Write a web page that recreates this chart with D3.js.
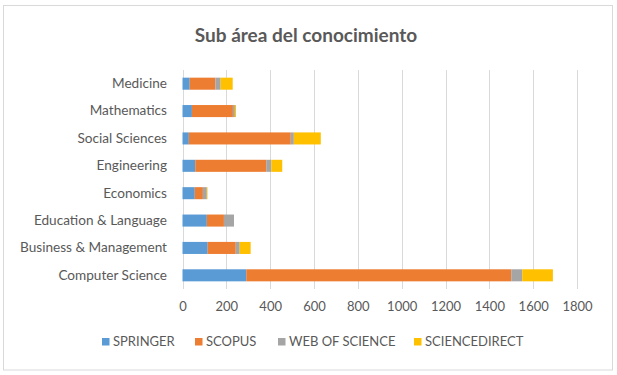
<!DOCTYPE html>
<html>
<head>
<meta charset="utf-8">
<script src="https://cdn.jsdelivr.net/npm/d3@7"></script>
<style>
  body { margin: 0; background: #fff; }
  svg { display: block; }
  text { font-family: Lato, "Open Sans", sans-serif; fill: #595959; }
</style>
</head>
<body>
<svg id="chart" width="617" height="375"></svg>
<script>
// categories, top to bottom
var categories = ["Medicine", "Mathematics", "Social Sciences", "Engineering",
  "Economics", "Education & Language", "Business & Management", "Computer Science"];

var seriesNames = ["SPRINGER", "SCOPUS", "WEB OF SCIENCE", "SCIENCEDIRECT"];
var springer      = [33, 43, 29, 58, 56, 111, 115, 291];
var scopus        = [117, 187, 465, 324, 37, 78, 128, 1209];
var webOfScience  = [24, 9, 14, 23, 18, 46, 18, 50];
var scienceDirect = [55, 5, 123, 50, 3, 0, 50, 140];

var xTicks = [0, 200, 400, 600, 800, 1000, 1200, 1400, 1600, 1800];
var colors = ["#5B9BD5", "#ED7D31", "#A5A5A5", "#FFC000"];

var svg = d3.select("#chart");

// outer border
svg.append("rect")
  .attr("x", 3.5).attr("y", 5.5)
  .attr("width", 609).attr("height", 364.5)
  .attr("fill", "none")
  .attr("stroke", "#d9d9d9");

svg.append("text")
  .attr("x", 306).attr("y", 42)
  .attr("text-anchor", "middle")
  .style("font-size", "19px")
  .style("font-weight", "bold")
  .text("Sub área del conocimiento");

var x = d3.scaleLinear().domain([0, 1800]).range([182.5, 577]);
var y = d3.scaleBand().domain(categories).range([70, 289]).paddingInner(0.56).paddingOuter(0.28);

// gridlines
svg.append("g")
  .selectAll("line")
  .data(xTicks)
  .join("line")
  .attr("x1", function(d) { return Math.round(x(d)) + 0.5; })
  .attr("x2", function(d) { return Math.round(x(d)) + 0.5; })
  .attr("y1", 70).attr("y2", 289)
  .attr("stroke", "#d9d9d9")
  .attr("stroke-width", 1);

// stacked bars
var rows = categories.map(function(c, i) {
  return { cat: c, s0: springer[i], s1: scopus[i], s2: webOfScience[i], s3: scienceDirect[i] };
});
var stack = d3.stack().keys(["s0", "s1", "s2", "s3"]);
var layers = stack(rows);

svg.append("g")
  .selectAll("g")
  .data(layers)
  .join("g")
  .attr("fill", function(d, i) { return colors[i]; })
  .selectAll("rect")
  .data(function(d) { return d; })
  .join("rect")
  .attr("x", function(d) { return x(d[0]); })
  .attr("width", function(d) { return x(d[1]) - x(d[0]); })
  .attr("y", function(d) { return y(d.data.cat); })
  .attr("height", y.bandwidth());

// category labels
var yAxis = svg.append("g")
  .attr("transform", "translate(182,0)")
  .call(d3.axisLeft(y).tickSize(0).tickPadding(15));
yAxis.select(".domain").remove();
yAxis.selectAll("text")
  .style("font-size", "13.6px")
  .attr("fill", "#595959")
  .style("font-family", "Lato, 'Open Sans', sans-serif");

// value labels
var xAxis = svg.append("g")
  .attr("transform", "translate(0,289)")
  .call(d3.axisBottom(x).tickValues(xTicks).tickFormat(d3.format("d")).tickSize(0).tickPadding(13));
xAxis.select(".domain").remove();
xAxis.selectAll("text")
  .style("font-size", "13px")
  .attr("fill", "#595959")
  .style("font-family", "Lato, 'Open Sans', sans-serif");

// legend
var legendX = [102, 195, 278, 414];
var legend = svg.append("g")
  .selectAll("g")
  .data(seriesNames)
  .join("g")
  .attr("transform", function(d, i) { return "translate(" + legendX[i] + ",346)"; });
legend.append("rect")
  .attr("x", 0).attr("y", -8)
  .attr("width", 7.5).attr("height", 7.5)
  .attr("fill", function(d, i) { return colors[i]; });
legend.append("text")
  .attr("x", 11).attr("y", 0)
  .style("font-size", "13px")
  .text(function(d) { return d; });
</script>
</body>
</html>
